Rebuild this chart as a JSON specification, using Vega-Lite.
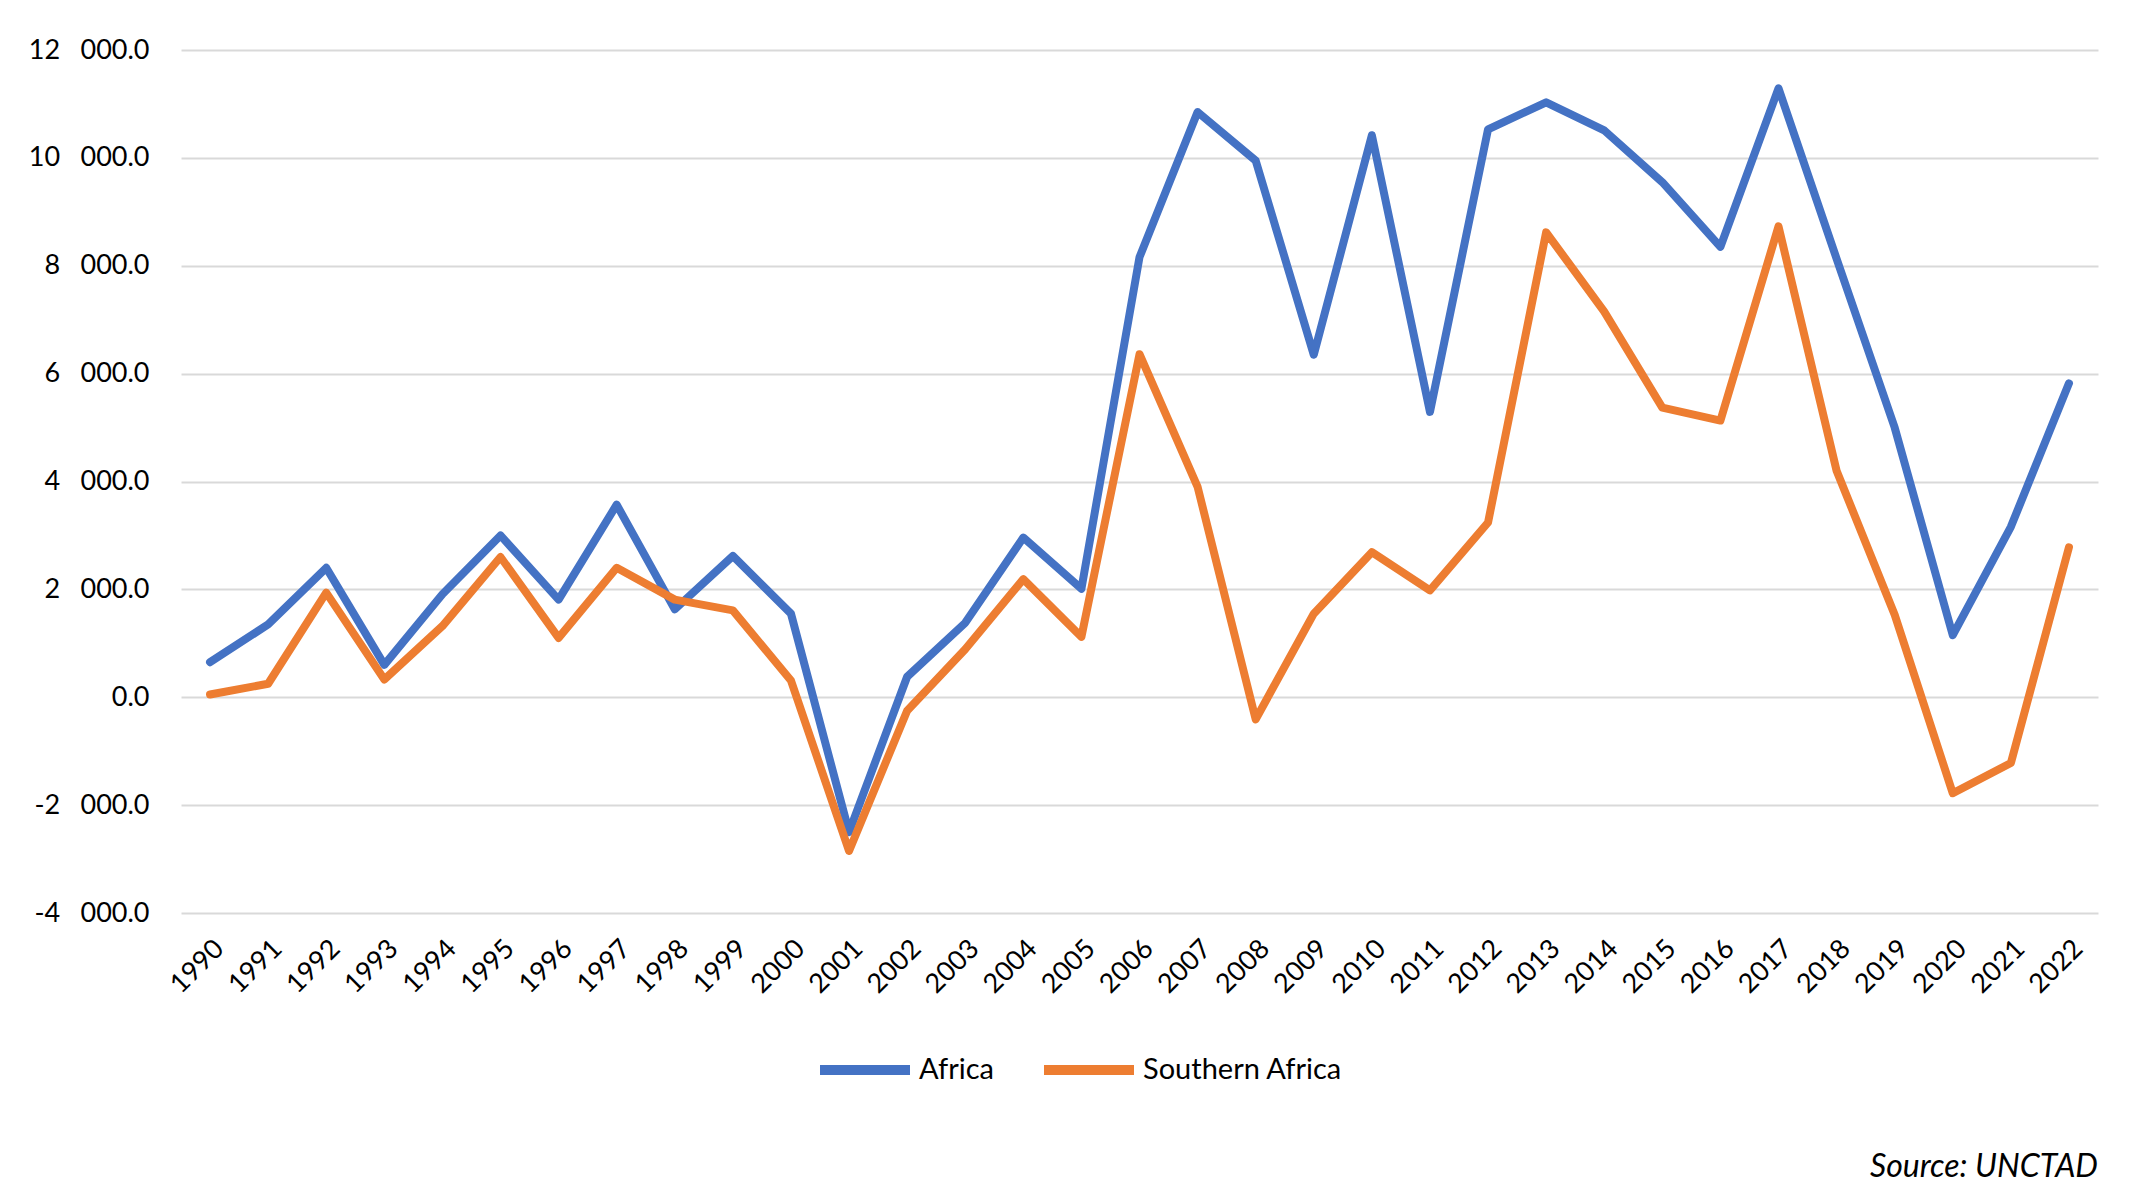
{
  "$schema": "https://vega.github.io/schema/vega-lite/v6.json",
  "width": 1917,
  "height": 863,
  "autosize": {"type": "none"},
  "padding": {"left": 181, "top": 50, "right": 51, "bottom": 277},
  "background": "white",
  "config": {
    "font": "Lato",
    "view": {"stroke": null},
    "axis": {"labelFont": "Lato", "labelColor": "#000000", "labelFontSize": 24}
  },
  "title": {
    "text": "Source: UNCTAD",
    "orient": "bottom",
    "anchor": "end",
    "fontStyle": "italic",
    "fontWeight": "normal",
    "fontSize": 32,
    "font": "Lato",
    "color": "#000000",
    "offset": 62
  },
  "data": {
    "values": [
      {"year": "1990", "region": "Africa", "value": 650},
      {"year": "1991", "region": "Africa", "value": 1350},
      {"year": "1992", "region": "Africa", "value": 2400},
      {"year": "1993", "region": "Africa", "value": 600},
      {"year": "1994", "region": "Africa", "value": 1910},
      {"year": "1995", "region": "Africa", "value": 3000},
      {"year": "1996", "region": "Africa", "value": 1810},
      {"year": "1997", "region": "Africa", "value": 3570},
      {"year": "1998", "region": "Africa", "value": 1630},
      {"year": "1999", "region": "Africa", "value": 2620},
      {"year": "2000", "region": "Africa", "value": 1550},
      {"year": "2001", "region": "Africa", "value": -2500},
      {"year": "2002", "region": "Africa", "value": 380},
      {"year": "2003", "region": "Africa", "value": 1380},
      {"year": "2004", "region": "Africa", "value": 2960},
      {"year": "2005", "region": "Africa", "value": 2010},
      {"year": "2006", "region": "Africa", "value": 8160},
      {"year": "2007", "region": "Africa", "value": 10850},
      {"year": "2008", "region": "Africa", "value": 9950},
      {"year": "2009", "region": "Africa", "value": 6350},
      {"year": "2010", "region": "Africa", "value": 10420},
      {"year": "2011", "region": "Africa", "value": 5290},
      {"year": "2012", "region": "Africa", "value": 10530},
      {"year": "2013", "region": "Africa", "value": 11030},
      {"year": "2014", "region": "Africa", "value": 10510},
      {"year": "2015", "region": "Africa", "value": 9550},
      {"year": "2016", "region": "Africa", "value": 8350},
      {"year": "2017", "region": "Africa", "value": 11290},
      {"year": "2018", "region": "Africa", "value": 8130},
      {"year": "2019", "region": "Africa", "value": 5000},
      {"year": "2020", "region": "Africa", "value": 1150},
      {"year": "2021", "region": "Africa", "value": 3160},
      {"year": "2022", "region": "Africa", "value": 5820},
      {"year": "1990", "region": "Southern Africa", "value": 50},
      {"year": "1991", "region": "Southern Africa", "value": 250},
      {"year": "1992", "region": "Southern Africa", "value": 1940},
      {"year": "1993", "region": "Southern Africa", "value": 330},
      {"year": "1994", "region": "Southern Africa", "value": 1320},
      {"year": "1995", "region": "Southern Africa", "value": 2600},
      {"year": "1996", "region": "Southern Africa", "value": 1100},
      {"year": "1997", "region": "Southern Africa", "value": 2400},
      {"year": "1998", "region": "Southern Africa", "value": 1810},
      {"year": "1999", "region": "Southern Africa", "value": 1610},
      {"year": "2000", "region": "Southern Africa", "value": 310},
      {"year": "2001", "region": "Southern Africa", "value": -2850},
      {"year": "2002", "region": "Southern Africa", "value": -250},
      {"year": "2003", "region": "Southern Africa", "value": 890},
      {"year": "2004", "region": "Southern Africa", "value": 2190},
      {"year": "2005", "region": "Southern Africa", "value": 1120},
      {"year": "2006", "region": "Southern Africa", "value": 6360},
      {"year": "2007", "region": "Southern Africa", "value": 3900},
      {"year": "2008", "region": "Southern Africa", "value": -410},
      {"year": "2009", "region": "Southern Africa", "value": 1550},
      {"year": "2010", "region": "Southern Africa", "value": 2690},
      {"year": "2011", "region": "Southern Africa", "value": 1980},
      {"year": "2012", "region": "Southern Africa", "value": 3240},
      {"year": "2013", "region": "Southern Africa", "value": 8620},
      {"year": "2014", "region": "Southern Africa", "value": 7150},
      {"year": "2015", "region": "Southern Africa", "value": 5370},
      {"year": "2016", "region": "Southern Africa", "value": 5130},
      {"year": "2017", "region": "Southern Africa", "value": 8730},
      {"year": "2018", "region": "Southern Africa", "value": 4200},
      {"year": "2019", "region": "Southern Africa", "value": 1530},
      {"year": "2020", "region": "Southern Africa", "value": -1780},
      {"year": "2021", "region": "Southern Africa", "value": -1220},
      {"year": "2022", "region": "Southern Africa", "value": 2780}
    ]
  },
  "mark": {"type": "line", "strokeWidth": 8, "strokeCap": "round", "strokeJoin": "round"},
  "encoding": {
    "x": {
      "field": "year",
      "type": "ordinal",
      "scale": {"type": "point", "padding": 0.5},
      "axis": {
        "title": null,
        "labelAngle": -45,
        "domain": false,
        "ticks": false,
        "grid": false,
        "labelPadding": 22,
        "labelFontSize": 27
      }
    },
    "y": {
      "field": "value",
      "type": "quantitative",
      "scale": {"domain": [-4000, 12000], "nice": false, "zero": false},
      "axis": {
        "title": null,
        "values": [-4000, -2000, 0, 2000, 4000, 6000, 8000, 10000, 12000],
        "labelExpr": "replace(replace(format(datum.value, ',.1f'), ',', '\u2002 '), '\u2212', '-')",
        "domain": false,
        "ticks": false,
        "grid": true,
        "gridColor": "#D9D9D9",
        "gridWidth": 2,
        "labelPadding": 32,
        "labelFontSize": 27
      }
    },
    "color": {
      "field": "region",
      "type": "nominal",
      "scale": {"domain": ["Africa", "Southern Africa"], "range": ["#4472C4", "#ED7D31"]},
      "legend": {
        "title": null,
        "orient": "none",
        "direction": "horizontal",
        "legendX": 634,
        "legendY": 970,
        "symbolType": "stroke",
        "symbolSize": 8100,
        "symbolStrokeWidth": 10,
        "labelFontSize": 29,
        "labelFont": "Lato",
        "labelColor": "#000000",
        "labelOffset": 4,
        "labelLimit": 400,
        "columnPadding": 30
      }
    }
  }
}
